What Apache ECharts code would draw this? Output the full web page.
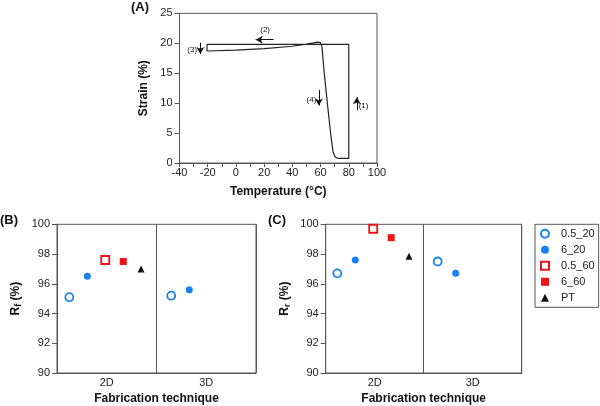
<!DOCTYPE html>
<html>
<head>
<meta charset="utf-8">
<script src="https://cdn.jsdelivr.net/npm/echarts@6/dist/echarts.min.js"></script>
<style>
html,body{margin:0;padding:0;background:#fff;}
#chart{width:600px;height:406px;}
</style>
</head>
<body>
<div id="chart"></div>
<script>
// ---- Panel A: strain vs temperature cycle ----
const tempA   = [72, 80, 80, -20.5, -20.5, 0, 20, 40, 50, 55, 58, 60, 61, 62.4, 64.8, 67.1, 68.8, 70.2, 72];
const strainA = [0.78, 0.78, 19.8, 19.8, 18.7, 18.85, 19.1, 19.5, 19.85, 20.05, 20.2, 20.1, 19.4, 15.5, 10, 5, 1.9, 1.05, 0.78];
// annotation arrows (data coords): [x1,y1,x2,y2]
const arrowsA = [[85.7, 8.8, 85.7, 11.0], [26.7, 20.6, 14.0, 20.6], [-25.2, 20.1, -25.2, 18.2], [58.8, 12.2, 58.8, 9.6]];
const arrowLabels = ['(1)', '(2)', '(3)', '(4)'];
const arrowLabelPos = [[90.5, 9.5], [20.7, 22.2], [-31, 18.95], [53.5, 10.6]];

// ---- Panels B, C ----
const categories = ['2D', '3D'];
const seriesNames = ['0.5_20', '6_20', '0.5_60', '6_60', 'PT'];
const rfB = [[95.1, 95.2], [96.5, 95.6], [97.6, null], [97.5, null], [97.0, null]];
const rrC = [[96.7, 97.5], [97.6, 96.7], [99.7, null], [99.1, null], [97.85, null]];
const yTicksBC = [90, 92, 94, 96, 98, 100];

// styles
const BLUE = '#1a82f0', RED = '#ee1118';
const styles = [
  {symbol: 'circle', size: 8, itemStyle: {color: '#fff', borderColor: BLUE, borderWidth: 1.8, opacity: 1}},
  {symbol: 'circle', size: 7, itemStyle: {color: BLUE, opacity: 1}},
  {symbol: 'rect', size: 8, itemStyle: {color: '#fff', borderColor: RED, borderWidth: 1.8, opacity: 1}},
  {symbol: 'rect', size: 7, itemStyle: {color: RED, opacity: 1}},
  {symbol: 'triangle', size: 7, itemStyle: {color: '#111', opacity: 1}}
];
const off2D = [-37.4, -19.4, -1.5, 16.5, 34.3];
const off3D = [-35, -17, 0, 0, 0];

const FONT = 'Liberation Sans, Arial, sans-serif';
const AX = '#555';
const tickLabel = {color: '#222', fontSize: 11, fontFamily: FONT};

function yName(sub) {
  return {
    name: '{r|R}{s|' + sub + '}{r| (%)}',
    nameTextStyle: {
      rich: {
        r: {fontSize: 12, fontWeight: 'bold', fontFamily: FONT, color: '#111'},
        s: {fontSize: 9, fontWeight: 'bold', fontFamily: FONT, color: '#111', padding: [6, 0, 0, 0]}
      }
    }
  };
}

const grids = [
  {left: 179.5, top: 13.3, width: 197.5, height: 149.7, show: true, borderColor: AX, borderWidth: 1},
  {left: 57, top: 224.3, width: 199, height: 150.4, show: true, borderColor: AX, borderWidth: 1},
  {left: 325.7, top: 224.3, width: 196, height: 150.4, show: true, borderColor: AX, borderWidth: 1}
];

const xAxes = [
  {type: 'value', gridIndex: 0, min: -40, max: 100, interval: 20,
   axisLine: {onZero: false, lineStyle: {color: AX}}, axisTick: {length: 4, lineStyle: {color: AX}},
   minorTick: {show: true, splitNumber: 2, length: 4, lineStyle: {color: AX}},
   splitLine: {show: false}, axisLabel: Object.assign({margin: 4}, tickLabel),
   name: 'Temperature (°C)', nameLocation: 'middle', nameGap: 23,
   nameTextStyle: {fontSize: 12, fontWeight: 'bold', fontFamily: FONT, color: '#111'}},
  {type: 'category', gridIndex: 1, data: categories, boundaryGap: true,
   axisLine: {onZero: false, lineStyle: {color: AX}}, axisTick: {show: false},
   splitLine: {show: true, lineStyle: {color: AX, width: 1}},
   axisLabel: Object.assign({margin: 4}, tickLabel),
   name: 'Fabrication technique', nameLocation: 'middle', nameGap: 20,
   nameTextStyle: {fontSize: 12, fontWeight: 'bold', fontFamily: FONT, color: '#111'}},
  {type: 'category', gridIndex: 2, data: categories, boundaryGap: true,
   axisLine: {onZero: false, lineStyle: {color: AX}}, axisTick: {show: false},
   splitLine: {show: true, lineStyle: {color: AX, width: 1}},
   axisLabel: Object.assign({margin: 4}, tickLabel),
   name: 'Fabrication technique', nameLocation: 'middle', nameGap: 20,
   nameTextStyle: {fontSize: 12, fontWeight: 'bold', fontFamily: FONT, color: '#111'}}
];

const yAxes = [
  {type: 'value', gridIndex: 0, min: 0, max: 25, interval: 5,
   axisLine: {show: true, onZero: false, lineStyle: {color: AX}}, axisTick: {show: true, length: 5, lineStyle: {color: AX}},
   splitLine: {show: false}, axisLabel: Object.assign({margin: 7}, tickLabel),
   name: 'Strain (%)', nameLocation: 'middle', nameGap: 30,
   nameTextStyle: {fontSize: 12, fontWeight: 'bold', fontFamily: FONT, color: '#111'}},
  Object.assign({type: 'value', gridIndex: 1, min: yTicksBC[0], max: yTicksBC[yTicksBC.length - 1], interval: 2,
   axisLine: {show: true, onZero: false, lineStyle: {color: AX}}, axisTick: {show: true, length: 5, lineStyle: {color: AX}},
   splitLine: {show: false}, axisLabel: Object.assign({margin: 7}, tickLabel),
   nameLocation: 'middle', nameGap: 34}, yName('f')),
  Object.assign({type: 'value', gridIndex: 2, min: yTicksBC[0], max: yTicksBC[yTicksBC.length - 1], interval: 2,
   axisLine: {show: true, onZero: false, lineStyle: {color: AX}}, axisTick: {show: true, length: 5, lineStyle: {color: AX}},
   splitLine: {show: false}, axisLabel: Object.assign({margin: 7}, tickLabel),
   nameLocation: 'middle', nameGap: 34}, yName('r'))
];

const series = [];
series.push({
  type: 'line', xAxisIndex: 0, yAxisIndex: 0, name: 'cycle',
  data: tempA.map((t, i) => [t, strainA[i]]),
  showSymbol: false, symbol: 'none', smooth: false,
  lineStyle: {color: '#222', width: 1.2},
  markLine: {
    silent: true, symbol: ['none', 'arrow'], symbolSize: [6, 7],
    lineStyle: {color: '#111', width: 1, type: 'solid'},
    label: {show: false},
    data: arrowsA.map(a => [{coord: [a[0], a[1]]}, {coord: [a[2], a[3]]}])
  },
  markPoint: {
    silent: true, symbol: 'circle', symbolSize: 0,
    label: {show: true, color: '#111', fontSize: 8, fontFamily: FONT, position: 'inside'},
    data: arrowLabelPos.map((p, i) => ({coord: p, value: arrowLabels[i], label: {formatter: arrowLabels[i]}}))
  }
});

function addPanel(values, gi) {
  seriesNames.forEach((nm, si) => {
    const st = styles[si];
    series.push({
      type: 'scatter', name: nm, xAxisIndex: gi, yAxisIndex: gi,
      symbol: st.symbol, symbolSize: st.size, itemStyle: st.itemStyle,
      data: categories.map((c, ci) => values[si][ci] == null ? null : {
        value: [c, values[si][ci]],
        symbolOffset: [ci === 0 ? off2D[si] : off3D[si], 0]
      }).filter(d => d)
    });
  });
}
addPanel(rfB, 1);
addPanel(rrC, 2);

const titleStyle = {fontSize: 13, fontWeight: 'bold', fontFamily: FONT, color: '#111'};
const option = {
  animation: false,
  backgroundColor: '#fff',
  title: [
    {text: '(A)', left: 131, top: 1, padding: 0, textStyle: titleStyle},
    {text: '(B)', left: 0, top: 214, padding: 0, textStyle: titleStyle},
    {text: '(C)', left: 268, top: 214, padding: 0, textStyle: titleStyle}
  ],
  legend: {
    data: seriesNames, orient: 'vertical', left: 535, top: 224.3,
    borderColor: AX, borderWidth: 1, padding: [4, 4, 4, 5],
    itemWidth: 8, itemHeight: 8, itemGap: 5,
    textStyle: {fontSize: 11, fontFamily: FONT, color: '#222', padding: [0, 0, 0, 7]}
  },
  grid: grids, xAxis: xAxes, yAxis: yAxes, series: series
};
const chart = echarts.init(document.getElementById('chart'), null, {renderer: 'canvas'});
chart.setOption(option);
</script>
</body>
</html>
